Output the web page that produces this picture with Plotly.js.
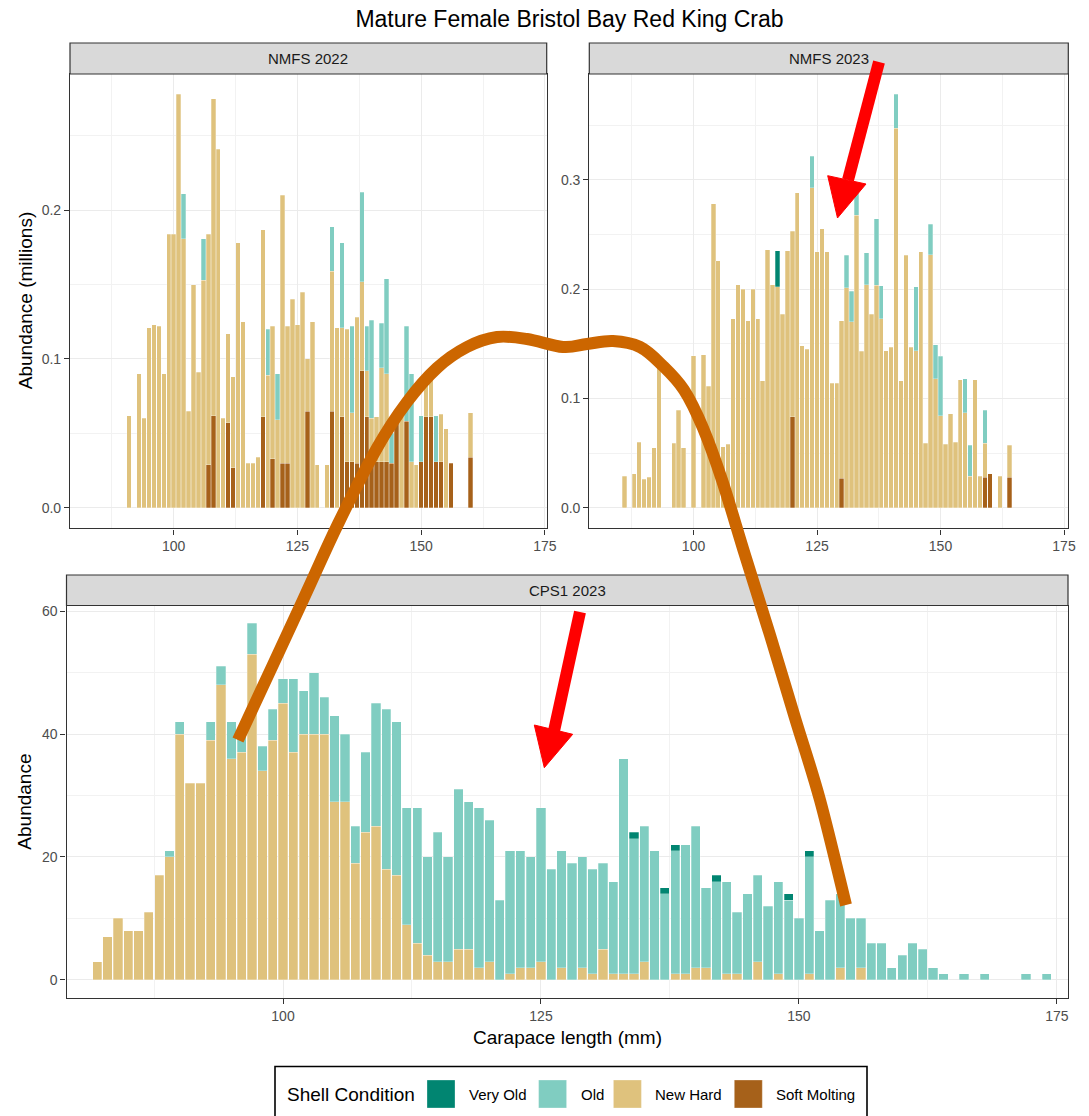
<!DOCTYPE html>
<html>
<head>
<meta charset="utf-8">
<script src="https://cdn.plot.ly/plotly-3.0.1.min.js"></script>
<style>html,body{margin:0;padding:0;background:#fff;}</style>
</head>
<body>
<div id="chart" style="width:1089px;height:1116px;"></div>
<script>
// ---------------- DATA ----------------
const chartTitle = "Mature Female Bristol Bay Red King Crab";
const panelNames = ["NMFS 2022", "NMFS 2023", "CPS1 2023"];
const conditions = ["Very Old", "Old", "New Hard", "Soft Molting"];
const condColors = ["#018571", "#80CDC1", "#DFC27D", "#A6611A"];
const xTickVals = [100, 125, 150, 175];

// NMFS 2022 (millions)
const sizes22 = [91,93,94,95,96,97,98,99,100,101, 102,103,104,105,106,107,108,109,110,111,
  112,113,114,115,116,117,118,119,120,121, 122,123,124,125,126,127,128,129,131,132,
  133,134,135,136,137,138,139,140,141,142, 143,144,145,146,147,148,149,150,151,152,
  153,154,155,156,160];
const soft22 = [0,0,0,0,0,0,0,0,0,0, 0,0,0,0,0,.029,.062,0,0,.057,
  .027,0,0,0,0,0,.061,0,.033,0, .030,.030,0,0,0,.065,0,0,0,.065,
  0,.061,.031,.031,.030,.092,.061,.031,.031,.031, .031,.030,.058,0,.058,0,0,.031,.061,.061,
  .031,.031,0,.030,.034];
const newHard22 = [.062,.090,.060,.121,.123,.122,.090,.184,.184,.278, .181,.065,.150,.091,.153,.155,.213,.241,.060,.060,
  .061,.178,.125,.030,.030,.034,.126,.089,.089,.059, .180,.092,.140,.123,.145,.035,.125,.029,.029,.094,
  .121,.060,.089,.033,.098,.060,.031,.029,.030,.063, .059,0,0,.061,0,.031,.029,0,.028,.029,
  0,.032,.053,0,.030];
const old22 = [0,0,0,0,0,0,0,0,0,0, .030,0,0,0,.028,0,0,0,0,0,
  0,0,0,0,0,0,0,.031,0,.031, 0,0,0,0,0,0,0,0,0,.030,
  0,.057,0,.058,0,.060,.030,.066,0,.030, .064,.020,0,0,.064,.059,0,.031,0,0,
  .031,0,0,0,0];
const veryOld22 = sizes22.map(() => 0);

// NMFS 2023 (millions)
const sizes23 = [86,88,89,90,91,92,93,96,97,98, 100,102,103,104,105,106,107,108,109,110,
  111,112,113,114,115,116,117,118,119,120, 121,122,123,124,125,126,127,128,129,130,
  131,132,133,134,135,136,137,138,139,140, 141,142,143,144,145,146,147,148,149,150,
  151,152,153,154,155,156,157,158,159,160, 162,164];
const soft23 = [0,0,0,0,0,0,0,0,0,0, 0,0,0,0,0,0,0,0,0,0,
  0,0,0,0,0,0,0,0,0,.083, 0,0,0,0,0,0,0,0,0,.027,
  0,0,0,0,0,0,0,0,0,0, 0,0,0,0,0,0,0,0,0,0,
  0,0,0,0,0,0,0,0,.028,.031, 0,.028];
const newHard23 = [.029,.031,.060,.026,.028,.055,.139,.059,.089,.055, .139,.140,.111,.278,.226,.056,.058,.173,.204,.200,
  .171,.200,.173,.116,.236,.204,.202,.177,.235,.170, .288,.148,.145,.2925,.234,.255,.234,.114,.114,.144,
  .201,.170,.2675,.143,.204,.177,.2035,.173,.1435,.147, .347,.116,.231,.147,.1435,.234,.059,.2315,.118,.084,
  .058,.086,.060,.117,.087,.029,.117,.029,.031,0, .029,.029];
const old23 = [0,0,0,0,0,0,0,0,0,0, 0,0,0,0,0,0,0,0,0,0,
  0,0,0,0,0,0,0,0,0,0, 0,0,0,.029,0,0,0,0,0,0,
  .030,.028,.0225,0,.029,0,.061,.030,0,0, .031,0,0,0,.0585,0,0,.028,.031,.0545,
  0,0,0,0,.031,.028,0,0,.030,0, 0,0];
const veryOld23 = [0,0,0,0,0,0,0,0,0,0, 0,0,0,0,0,0,0,0,0,0,
  0,0,0,0,0,0,.033,0,0,0, 0,0,0,0,0,0,0,0,0,0,
  0,0,0,0,0,0,0,0,0,0, 0,0,0,0,0,0,0,0,0,0,
  0,0,0,0,0,0,0,0,0,0, 0,0];

// CPS1 2023 (counts)
const sizesCPS = [82,83,84,85,86,87,88,89,90,91, 92,93,94,95,96,97,98,99,100,101,
  102,103,104,105,106,107,108,109,110,111, 112,113,114,115,116,117,118,119,120,121,
  122,123,124,125,126,127,128,129,130,131, 132,133,134,135,136,137,138,139,140,141,
  142,143,144,145,146,147,148,149,150,151, 152,153,154,155,156,157,158,159,160,161,
  162,163,164, 166,168,172,174];
const newHardCPS = [3,7,10,8,8,11,17,20,40,32, 32,39,48,36,37,53,34,39,45,37,
  40,40,40,29,29,19,24,25,18,17, 9,6,4,3,3,5,5,2,3,0,
  1,2,2,3,0,2,0,2,1,5, 1,1,1,3,0,0,1,1,2,2,
  0,1,1,0,3,0,1,0,0,1, 0,0,2,0,2,0,0,0,0,0,
  0,0,0, 0,0,0,0];
const oldCPS = [0,0,0,0,0,0,0,1,2,0, 0,3,3,6,3,5,4,5,4,12,
  7,10,6,14,11,6,13,20,26,25, 19,22,16,21,17,26,24,26,23,13,
  20,19,18,25,18,19,19,18,17,14, 15,35,22,22,21,14,20,21,23,13,
  16,15,10,14,14,12,15,13,10,19, 8,13,12,10,8,6,6,2,4,6,
  5,2,1, 1,1,1,1];
const veryOldCPS = [0,0,0,0,0,0,0,0,0,0, 0,0,0,0,0,0,0,0,0,0,
  0,0,0,0,0,0,0,0,0,0, 0,0,0,0,0,0,0,0,0,0,
  0,0,0,0,0,0,0,0,0,0, 0,0,1,0,0,1,1,0,0,0,
  1,0,0,0,0,0,0,1,0,1, 0,0,0,0,0,0,0,0,0,0,
  0,0,0, 0,0,0,0];
const softCPS = sizesCPS.map(() => 0);

// ---------------- LAYOUT HELPERS ----------------
const W = 1089, H = 1116;
const X = px => px / W;
const Y = py => 1 - py / H;

const panels = [
  {name: panelNames[0], xa: 'x',  ya: 'y',  sizes: sizes22,  series: [veryOld22, old22, newHard22, soft22]},
  {name: panelNames[1], xa: 'x2', ya: 'y2', sizes: sizes23,  series: [veryOld23, old23, newHard23, soft23]},
  {name: panelNames[2], xa: 'x3', ya: 'y3', sizes: sizesCPS, series: [veryOldCPS, oldCPS, newHardCPS, softCPS]}
];

const traces = [];
panels.forEach(p => {
  // stack from bottom: Soft Molting, New Hard, Old, Very Old
  [3, 2, 1, 0].forEach(ci => {
    traces.push({
      type: 'bar',
      name: conditions[ci],
      x: p.sizes,
      y: p.series[ci].map(v => v > 0 ? v : null),
      xaxis: p.xa, yaxis: p.ya,
      width: 0.9,
      marker: {color: condColors[ci], line: {color: 'rgba(255,255,255,0.45)', width: 0.6}},
      showlegend: false,
      hoverinfo: 'x+y+name'
    });
  });
});

function axisStyle(extra) {
  return Object.assign({
    showline: true, mirror: true, linecolor: '#333333', linewidth: 1.2,
    ticks: 'outside', ticklen: 5, tickwidth: 1.1, tickcolor: '#333333',
    tickfont: {size: 14, color: '#4D4D4D', family: 'Liberation Sans, Arial, sans-serif'},
    showgrid: true, gridcolor: '#EBEBEB', gridwidth: 1.4,
    zeroline: false, automargin: false, fixedrange: true, tickmode: 'linear', tick0: 0
  }, extra);
}
const minorX = {dtick: 12.5, showgrid: true, gridcolor: '#F2F2F2', gridwidth: 0.8};

const topY0 = 528.4, topY1 = 74;
const botY0 = 997.8, botY1 = 605.5;

const layout = {
  width: W, height: H,
  margin: {l: 0, r: 0, t: 0, b: 0, pad: 0},
  paper_bgcolor: '#ffffff', plot_bgcolor: '#ffffff',
  font: {family: 'Liberation Sans, Arial, sans-serif', color: '#000000'},
  barmode: 'stack',
  showlegend: false,
  title: {text: chartTitle, x: 569.5 / W, xanchor: 'center', xref: 'paper',
          y: Y(19), yanchor: 'middle', yref: 'paper', font: {size: 23, color: '#000000'}},
  xaxis: axisStyle({domain: [X(70), X(546.7)], range: [79.05, 175.35], dtick: 25, anchor: 'y', minor: minorX}),
  yaxis: axisStyle({domain: [Y(topY0), Y(topY1)], range: [-0.0139, 0.2916], dtick: 0.1, tickformat: '.1f', anchor: 'x',
                    minor: {dtick: 0.05, showgrid: true, gridcolor: '#F2F2F2', gridwidth: 0.8}}),
  xaxis2: axisStyle({domain: [X(589.3), X(1068.3)], range: [78.9, 175.87], dtick: 25, anchor: 'y2', minor: minorX}),
  yaxis2: axisStyle({domain: [Y(topY0), Y(topY1)], range: [-0.0189, 0.3967], dtick: 0.1, tickformat: '.1f', anchor: 'x2',
                    minor: {dtick: 0.05, showgrid: true, gridcolor: '#F2F2F2', gridwidth: 0.8}}),
  xaxis3: axisStyle({domain: [X(66.5), X(1068)], range: [79.02, 176.07], dtick: 25, anchor: 'y3', minor: minorX}),
  yaxis3: axisStyle({domain: [Y(botY0), Y(botY1)], range: [-2.9, 60.9], dtick: 20, anchor: 'x3',
                    minor: {dtick: 10, showgrid: true, gridcolor: '#F2F2F2', gridwidth: 0.8}}),
  shapes: [],
  annotations: []
};

// strips
const strips = [
  {x0: 70, x1: 546.7, y0: 43, y1: topY1, label: panelNames[0]},
  {x0: 589.3, x1: 1068.3, y0: 43, y1: topY1, label: panelNames[1]},
  {x0: 66.5, x1: 1068, y0: 575, y1: botY1, label: panelNames[2]}
];
strips.forEach(s => {
  layout.shapes.push({type: 'rect', xref: 'paper', yref: 'paper',
    x0: X(s.x0), x1: X(s.x1), y0: Y(s.y1), y1: Y(s.y0),
    fillcolor: '#D9D9D9', line: {color: '#333333', width: 1.2}, layer: 'above'});
  layout.annotations.push({xref: 'paper', yref: 'paper', x: X((s.x0 + s.x1) / 2), y: Y((s.y0 + s.y1) / 2),
    text: s.label, showarrow: false, xanchor: 'center', yanchor: 'middle',
    font: {size: 15, color: '#1A1A1A'}});
});

// axis titles
layout.annotations.push({xref: 'paper', yref: 'paper', x: X(25), y: Y((topY0 + topY1) / 2),
  text: 'Abundance (millions)', textangle: -90, showarrow: false, xanchor: 'center', yanchor: 'middle',
  font: {size: 19, color: '#000000'}});
layout.annotations.push({xref: 'paper', yref: 'paper', x: X(25), y: Y((botY0 + botY1) / 2),
  text: 'Abundance', textangle: -90, showarrow: false, xanchor: 'center', yanchor: 'middle',
  font: {size: 19, color: '#000000'}});
layout.annotations.push({xref: 'paper', yref: 'paper', x: X(567), y: Y(1037),
  text: 'Carapace length (mm)', showarrow: false, xanchor: 'center', yanchor: 'middle',
  font: {size: 19, color: '#000000'}});

// ---- hand-drawn overlay: orange curve + red arrows ----
function smoothPath(pts) {
  let d = 'M' + X(pts[0][0]) + ',' + Y(pts[0][1]);
  for (let i = 0; i < pts.length - 1; i++) {
    const p0 = pts[i - 1] || pts[i], p1 = pts[i], p2 = pts[i + 1], p3 = pts[i + 2] || pts[i + 1];
    const c1 = [p1[0] + (p2[0] - p0[0]) / 6, p1[1] + (p2[1] - p0[1]) / 6];
    const c2 = [p2[0] - (p3[0] - p1[0]) / 6, p2[1] - (p3[1] - p1[1]) / 6];
    d += ' C' + X(c1[0]) + ',' + Y(c1[1]) + ' ' + X(c2[0]) + ',' + Y(c2[1]) + ' ' + X(p2[0]) + ',' + Y(p2[1]);
  }
  return d;
}
const curvePts = [[238,740],[303,600],[338,524],[377,448],[407,402],[437,368],[467,347],[497,337],[527,339],
  [563,347],[587,344],[613,341],[640,347],[662,365],[684,390],[703,428],[722,480],[745,555],[770,635],
  [795,718],[820,800],[846,905]];
layout.shapes.push({type: 'path', xref: 'paper', yref: 'paper', path: smoothPath(curvePts),
  line: {color: '#CC6600', width: 12}, layer: 'above'});

function arrow(shaft, head) {
  layout.shapes.push({type: 'path', xref: 'paper', yref: 'paper',
    path: 'M' + X(shaft[0][0]) + ',' + Y(shaft[0][1]) + ' L' + X(shaft[1][0]) + ',' + Y(shaft[1][1]),
    line: {color: '#FF0000', width: 12}, layer: 'above'});
  layout.shapes.push({type: 'path', xref: 'paper', yref: 'paper',
    path: 'M' + head.map(p => X(p[0]) + ',' + Y(p[1])).join(' L') + ' Z',
    fillcolor: '#FF0000', line: {color: '#FF0000', width: 1}, layer: 'above'});
}
arrow([[879, 62], [848, 180]], [[827.7, 175.7], [866, 184], [837.5, 218]]);
arrow([[580, 612], [554, 731]], [[534.3, 725], [572.7, 734.3], [544.3, 767.7]]);

// ---- legend ----
layout.shapes.push({type: 'rect', xref: 'paper', yref: 'paper', x0: X(275), x1: X(867), y0: Y(1130), y1: Y(1066.5),
  fillcolor: '#ffffff', line: {color: '#000000', width: 1.6}, layer: 'above'});
layout.annotations.push({xref: 'paper', yref: 'paper', x: X(285), y: Y(1094), text: 'Shell Condition',
  showarrow: false, xanchor: 'left', yanchor: 'middle', font: {size: 19, color: '#000000'}});
const swatchX = [427, 538.6, 613.4, 734.3];
conditions.forEach((c, i) => {
  layout.shapes.push({type: 'rect', xref: 'paper', yref: 'paper', x0: X(swatchX[i]), x1: X(swatchX[i] + 28),
    y0: Y(1108), y1: Y(1080), fillcolor: condColors[i], line: {color: 'rgba(255,255,255,0.5)', width: 0.6}, layer: 'above'});
  layout.annotations.push({xref: 'paper', yref: 'paper', x: X(swatchX[i] + 40), y: Y(1094), text: c,
    showarrow: false, xanchor: 'left', yanchor: 'middle', font: {size: 15, color: '#000000'}});
});

Plotly.newPlot('chart', traces, layout, {displayModeBar: false, responsive: false});
</script>
</body>
</html>
